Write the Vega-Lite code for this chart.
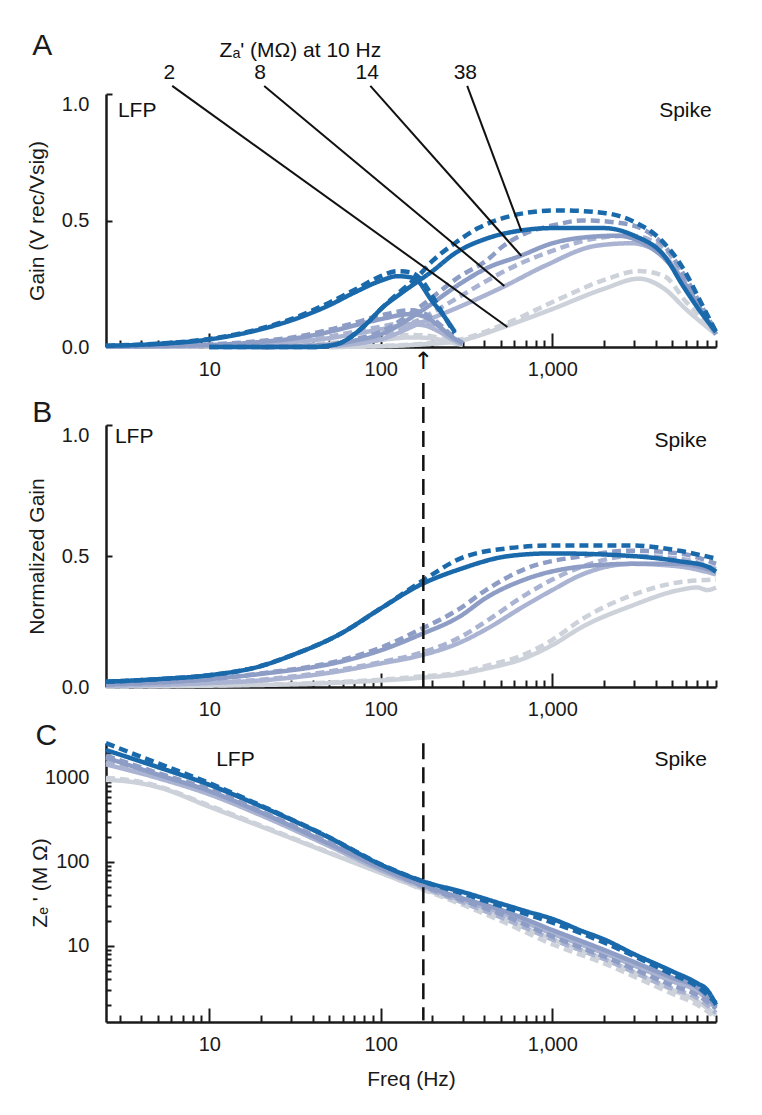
{
"$schema":"https://vega.github.io/schema/vega-lite/v6.json",
"padding":{"left":26,"top":30,"right":5,"bottom":5},
"spacing":-5,
"datasets":{"curves":[
{"p":"A","z":"2","s":"solid","b":"LFP","f":2.5,"v":0.0005},{"p":"A","z":"2","s":"solid","b":"LFP","f":10,"v":0.002},{"p":"A","z":"2","s":"solid","b":"LFP","f":20,"v":0.005},{"p":"A","z":"2","s":"solid","b":"LFP","f":50,"v":0.012},{"p":"A","z":"2","s":"solid","b":"LFP","f":100,"v":0.028},{"p":"A","z":"2","s":"solid","b":"LFP","f":150,"v":0.038},{"p":"A","z":"2","s":"solid","b":"LFP","f":200,"v":0.034},{"p":"A","z":"2","s":"solid","b":"LFP","f":250,"v":0.02},{"p":"A","z":"2","s":"solid","b":"LFP","f":300,"v":0.008},
{"p":"A","z":"2","s":"dashed","b":"LFP","f":2.5,"v":0.0005},{"p":"A","z":"2","s":"dashed","b":"LFP","f":10,"v":0.002},{"p":"A","z":"2","s":"dashed","b":"LFP","f":20,"v":0.006},{"p":"A","z":"2","s":"dashed","b":"LFP","f":50,"v":0.016},{"p":"A","z":"2","s":"dashed","b":"LFP","f":100,"v":0.035},{"p":"A","z":"2","s":"dashed","b":"LFP","f":150,"v":0.048},{"p":"A","z":"2","s":"dashed","b":"LFP","f":200,"v":0.042},{"p":"A","z":"2","s":"dashed","b":"LFP","f":250,"v":0.025},{"p":"A","z":"2","s":"dashed","b":"LFP","f":300,"v":0.01},
{"p":"A","z":"2","s":"solid","b":"Spike","f":50,"v":0},{"p":"A","z":"2","s":"solid","b":"Spike","f":100,"v":0.003},{"p":"A","z":"2","s":"solid","b":"Spike","f":170,"v":0.01},{"p":"A","z":"2","s":"solid","b":"Spike","f":290,"v":0.025},{"p":"A","z":"2","s":"solid","b":"Spike","f":525,"v":0.08},{"p":"A","z":"2","s":"solid","b":"Spike","f":1000,"v":0.15},{"p":"A","z":"2","s":"solid","b":"Spike","f":2000,"v":0.23},{"p":"A","z":"2","s":"solid","b":"Spike","f":3200,"v":0.27},{"p":"A","z":"2","s":"solid","b":"Spike","f":4500,"v":0.23},{"p":"A","z":"2","s":"solid","b":"Spike","f":6000,"v":0.15},{"p":"A","z":"2","s":"solid","b":"Spike","f":9000,"v":0.05},
{"p":"A","z":"2","s":"dashed","b":"Spike","f":50,"v":0},{"p":"A","z":"2","s":"dashed","b":"Spike","f":100,"v":0.004},{"p":"A","z":"2","s":"dashed","b":"Spike","f":170,"v":0.012},{"p":"A","z":"2","s":"dashed","b":"Spike","f":290,"v":0.03},{"p":"A","z":"2","s":"dashed","b":"Spike","f":525,"v":0.09},{"p":"A","z":"2","s":"dashed","b":"Spike","f":1100,"v":0.19},{"p":"A","z":"2","s":"dashed","b":"Spike","f":2100,"v":0.27},{"p":"A","z":"2","s":"dashed","b":"Spike","f":3200,"v":0.3},{"p":"A","z":"2","s":"dashed","b":"Spike","f":4500,"v":0.28},{"p":"A","z":"2","s":"dashed","b":"Spike","f":6000,"v":0.18},{"p":"A","z":"2","s":"dashed","b":"Spike","f":9000,"v":0.06},
{"p":"A","z":"8","s":"solid","b":"LFP","f":2.5,"v":0.001},{"p":"A","z":"8","s":"solid","b":"LFP","f":10,"v":0.005},{"p":"A","z":"8","s":"solid","b":"LFP","f":20,"v":0.012},{"p":"A","z":"8","s":"solid","b":"LFP","f":50,"v":0.035},{"p":"A","z":"8","s":"solid","b":"LFP","f":100,"v":0.07},{"p":"A","z":"8","s":"solid","b":"LFP","f":150,"v":0.09},{"p":"A","z":"8","s":"solid","b":"LFP","f":180,"v":0.085},{"p":"A","z":"8","s":"solid","b":"LFP","f":220,"v":0.06},{"p":"A","z":"8","s":"solid","b":"LFP","f":260,"v":0.03},{"p":"A","z":"8","s":"solid","b":"LFP","f":300,"v":0.01},
{"p":"A","z":"8","s":"dashed","b":"LFP","f":2.5,"v":0.001},{"p":"A","z":"8","s":"dashed","b":"LFP","f":10,"v":0.006},{"p":"A","z":"8","s":"dashed","b":"LFP","f":20,"v":0.015},{"p":"A","z":"8","s":"dashed","b":"LFP","f":50,"v":0.042},{"p":"A","z":"8","s":"dashed","b":"LFP","f":100,"v":0.08},{"p":"A","z":"8","s":"dashed","b":"LFP","f":150,"v":0.1},{"p":"A","z":"8","s":"dashed","b":"LFP","f":180,"v":0.095},{"p":"A","z":"8","s":"dashed","b":"LFP","f":220,"v":0.066},{"p":"A","z":"8","s":"dashed","b":"LFP","f":260,"v":0.033},{"p":"A","z":"8","s":"dashed","b":"LFP","f":300,"v":0.01},
{"p":"A","z":"8","s":"solid","b":"Spike","f":20,"v":0},{"p":"A","z":"8","s":"solid","b":"Spike","f":50,"v":0.004},{"p":"A","z":"8","s":"solid","b":"Spike","f":70,"v":0.012},{"p":"A","z":"8","s":"solid","b":"Spike","f":100,"v":0.03},{"p":"A","z":"8","s":"solid","b":"Spike","f":170,"v":0.095},{"p":"A","z":"8","s":"solid","b":"Spike","f":290,"v":0.16},{"p":"A","z":"8","s":"solid","b":"Spike","f":525,"v":0.24},{"p":"A","z":"8","s":"solid","b":"Spike","f":900,"v":0.32},{"p":"A","z":"8","s":"solid","b":"Spike","f":1800,"v":0.4},{"p":"A","z":"8","s":"solid","b":"Spike","f":2900,"v":0.41},{"p":"A","z":"8","s":"solid","b":"Spike","f":3800,"v":0.39},{"p":"A","z":"8","s":"solid","b":"Spike","f":4800,"v":0.34},{"p":"A","z":"8","s":"solid","b":"Spike","f":5800,"v":0.26},{"p":"A","z":"8","s":"solid","b":"Spike","f":7300,"v":0.15},{"p":"A","z":"8","s":"solid","b":"Spike","f":9000,"v":0.05},
{"p":"A","z":"8","s":"dashed","b":"Spike","f":20,"v":0},{"p":"A","z":"8","s":"dashed","b":"Spike","f":50,"v":0.005},{"p":"A","z":"8","s":"dashed","b":"Spike","f":70,"v":0.015},{"p":"A","z":"8","s":"dashed","b":"Spike","f":100,"v":0.035},{"p":"A","z":"8","s":"dashed","b":"Spike","f":170,"v":0.11},{"p":"A","z":"8","s":"dashed","b":"Spike","f":290,"v":0.2},{"p":"A","z":"8","s":"dashed","b":"Spike","f":410,"v":0.26},{"p":"A","z":"8","s":"dashed","b":"Spike","f":650,"v":0.33},{"p":"A","z":"8","s":"dashed","b":"Spike","f":1000,"v":0.38},{"p":"A","z":"8","s":"dashed","b":"Spike","f":1800,"v":0.43},{"p":"A","z":"8","s":"dashed","b":"Spike","f":2900,"v":0.44},{"p":"A","z":"8","s":"dashed","b":"Spike","f":3800,"v":0.42},{"p":"A","z":"8","s":"dashed","b":"Spike","f":4800,"v":0.37},{"p":"A","z":"8","s":"dashed","b":"Spike","f":5800,"v":0.28},{"p":"A","z":"8","s":"dashed","b":"Spike","f":7300,"v":0.16},{"p":"A","z":"8","s":"dashed","b":"Spike","f":9000,"v":0.06},
{"p":"A","z":"14","s":"solid","b":"LFP","f":2.5,"v":0.002},{"p":"A","z":"14","s":"solid","b":"LFP","f":10,"v":0.008},{"p":"A","z":"14","s":"solid","b":"LFP","f":20,"v":0.02},{"p":"A","z":"14","s":"solid","b":"LFP","f":30,"v":0.032},{"p":"A","z":"14","s":"solid","b":"LFP","f":50,"v":0.06},{"p":"A","z":"14","s":"solid","b":"LFP","f":70,"v":0.085},{"p":"A","z":"14","s":"solid","b":"LFP","f":100,"v":0.11},{"p":"A","z":"14","s":"solid","b":"LFP","f":150,"v":0.13},{"p":"A","z":"14","s":"solid","b":"LFP","f":180,"v":0.12},{"p":"A","z":"14","s":"solid","b":"LFP","f":220,"v":0.08},{"p":"A","z":"14","s":"solid","b":"LFP","f":260,"v":0.04},{"p":"A","z":"14","s":"solid","b":"LFP","f":300,"v":0.015},
{"p":"A","z":"14","s":"dashed","b":"LFP","f":2.5,"v":0.003},{"p":"A","z":"14","s":"dashed","b":"LFP","f":10,"v":0.01},{"p":"A","z":"14","s":"dashed","b":"LFP","f":20,"v":0.024},{"p":"A","z":"14","s":"dashed","b":"LFP","f":30,"v":0.037},{"p":"A","z":"14","s":"dashed","b":"LFP","f":50,"v":0.068},{"p":"A","z":"14","s":"dashed","b":"LFP","f":70,"v":0.095},{"p":"A","z":"14","s":"dashed","b":"LFP","f":100,"v":0.125},{"p":"A","z":"14","s":"dashed","b":"LFP","f":150,"v":0.145},{"p":"A","z":"14","s":"dashed","b":"LFP","f":180,"v":0.132},{"p":"A","z":"14","s":"dashed","b":"LFP","f":220,"v":0.09},{"p":"A","z":"14","s":"dashed","b":"LFP","f":260,"v":0.045},{"p":"A","z":"14","s":"dashed","b":"LFP","f":300,"v":0.015},
{"p":"A","z":"14","s":"solid","b":"Spike","f":20,"v":0},{"p":"A","z":"14","s":"solid","b":"Spike","f":50,"v":0.008},{"p":"A","z":"14","s":"solid","b":"Spike","f":70,"v":0.025},{"p":"A","z":"14","s":"solid","b":"Spike","f":100,"v":0.05},{"p":"A","z":"14","s":"solid","b":"Spike","f":170,"v":0.14},{"p":"A","z":"14","s":"solid","b":"Spike","f":290,"v":0.25},{"p":"A","z":"14","s":"solid","b":"Spike","f":410,"v":0.31},{"p":"A","z":"14","s":"solid","b":"Spike","f":650,"v":0.36},{"p":"A","z":"14","s":"solid","b":"Spike","f":1000,"v":0.41},{"p":"A","z":"14","s":"solid","b":"Spike","f":1400,"v":0.43},{"p":"A","z":"14","s":"solid","b":"Spike","f":2400,"v":0.44},{"p":"A","z":"14","s":"solid","b":"Spike","f":3400,"v":0.41},{"p":"A","z":"14","s":"solid","b":"Spike","f":4500,"v":0.35},{"p":"A","z":"14","s":"solid","b":"Spike","f":5800,"v":0.26},{"p":"A","z":"14","s":"solid","b":"Spike","f":7300,"v":0.15},{"p":"A","z":"14","s":"solid","b":"Spike","f":9000,"v":0.05},
{"p":"A","z":"14","s":"dashed","b":"Spike","f":20,"v":0},{"p":"A","z":"14","s":"dashed","b":"Spike","f":50,"v":0.01},{"p":"A","z":"14","s":"dashed","b":"Spike","f":70,"v":0.03},{"p":"A","z":"14","s":"dashed","b":"Spike","f":100,"v":0.06},{"p":"A","z":"14","s":"dashed","b":"Spike","f":170,"v":0.16},{"p":"A","z":"14","s":"dashed","b":"Spike","f":290,"v":0.28},{"p":"A","z":"14","s":"dashed","b":"Spike","f":410,"v":0.34},{"p":"A","z":"14","s":"dashed","b":"Spike","f":520,"v":0.4},{"p":"A","z":"14","s":"dashed","b":"Spike","f":700,"v":0.45},{"p":"A","z":"14","s":"dashed","b":"Spike","f":1000,"v":0.48},{"p":"A","z":"14","s":"dashed","b":"Spike","f":1500,"v":0.5},{"p":"A","z":"14","s":"dashed","b":"Spike","f":2500,"v":0.49},{"p":"A","z":"14","s":"dashed","b":"Spike","f":3500,"v":0.46},{"p":"A","z":"14","s":"dashed","b":"Spike","f":4500,"v":0.4},{"p":"A","z":"14","s":"dashed","b":"Spike","f":5800,"v":0.29},{"p":"A","z":"14","s":"dashed","b":"Spike","f":7300,"v":0.17},{"p":"A","z":"14","s":"dashed","b":"Spike","f":9000,"v":0.06},
{"p":"A","z":"38","s":"solid","b":"LFP","f":2.5,"v":0.005},{"p":"A","z":"38","s":"solid","b":"LFP","f":5,"v":0.012},{"p":"A","z":"38","s":"solid","b":"LFP","f":10,"v":0.03},{"p":"A","z":"38","s":"solid","b":"LFP","f":20,"v":0.07},{"p":"A","z":"38","s":"solid","b":"LFP","f":30,"v":0.105},{"p":"A","z":"38","s":"solid","b":"LFP","f":50,"v":0.165},{"p":"A","z":"38","s":"solid","b":"LFP","f":70,"v":0.215},{"p":"A","z":"38","s":"solid","b":"LFP","f":100,"v":0.262},{"p":"A","z":"38","s":"solid","b":"LFP","f":125,"v":0.28},{"p":"A","z":"38","s":"solid","b":"LFP","f":150,"v":0.275},{"p":"A","z":"38","s":"solid","b":"LFP","f":165,"v":0.26},{"p":"A","z":"38","s":"solid","b":"LFP","f":195,"v":0.19},{"p":"A","z":"38","s":"solid","b":"LFP","f":235,"v":0.12},{"p":"A","z":"38","s":"solid","b":"LFP","f":270,"v":0.06},
{"p":"A","z":"38","s":"dashed","b":"LFP","f":2.5,"v":0.005},{"p":"A","z":"38","s":"dashed","b":"LFP","f":5,"v":0.013},{"p":"A","z":"38","s":"dashed","b":"LFP","f":10,"v":0.032},{"p":"A","z":"38","s":"dashed","b":"LFP","f":20,"v":0.073},{"p":"A","z":"38","s":"dashed","b":"LFP","f":30,"v":0.11},{"p":"A","z":"38","s":"dashed","b":"LFP","f":50,"v":0.175},{"p":"A","z":"38","s":"dashed","b":"LFP","f":70,"v":0.225},{"p":"A","z":"38","s":"dashed","b":"LFP","f":100,"v":0.28},{"p":"A","z":"38","s":"dashed","b":"LFP","f":125,"v":0.3},{"p":"A","z":"38","s":"dashed","b":"LFP","f":150,"v":0.295},{"p":"A","z":"38","s":"dashed","b":"LFP","f":170,"v":0.27},{"p":"A","z":"38","s":"dashed","b":"LFP","f":200,"v":0.2},{"p":"A","z":"38","s":"dashed","b":"LFP","f":235,"v":0.12},{"p":"A","z":"38","s":"dashed","b":"LFP","f":270,"v":0.055},
{"p":"A","z":"38","s":"solid","b":"Spike","f":10,"v":0},{"p":"A","z":"38","s":"solid","b":"Spike","f":40,"v":0},{"p":"A","z":"38","s":"solid","b":"Spike","f":50,"v":0.005},{"p":"A","z":"38","s":"solid","b":"Spike","f":60,"v":0.02},{"p":"A","z":"38","s":"solid","b":"Spike","f":70,"v":0.05},{"p":"A","z":"38","s":"solid","b":"Spike","f":85,"v":0.1},{"p":"A","z":"38","s":"solid","b":"Spike","f":100,"v":0.15},{"p":"A","z":"38","s":"solid","b":"Spike","f":130,"v":0.21},{"p":"A","z":"38","s":"solid","b":"Spike","f":165,"v":0.26},{"p":"A","z":"38","s":"solid","b":"Spike","f":200,"v":0.3},{"p":"A","z":"38","s":"solid","b":"Spike","f":270,"v":0.37},{"p":"A","z":"38","s":"solid","b":"Spike","f":420,"v":0.43},{"p":"A","z":"38","s":"solid","b":"Spike","f":650,"v":0.46},{"p":"A","z":"38","s":"solid","b":"Spike","f":1000,"v":0.47},{"p":"A","z":"38","s":"solid","b":"Spike","f":2000,"v":0.47},{"p":"A","z":"38","s":"solid","b":"Spike","f":3000,"v":0.44},{"p":"A","z":"38","s":"solid","b":"Spike","f":4500,"v":0.36},{"p":"A","z":"38","s":"solid","b":"Spike","f":5800,"v":0.24},{"p":"A","z":"38","s":"solid","b":"Spike","f":7300,"v":0.14},{"p":"A","z":"38","s":"solid","b":"Spike","f":9000,"v":0.06},
{"p":"A","z":"38","s":"dashed","b":"Spike","f":10,"v":0},{"p":"A","z":"38","s":"dashed","b":"Spike","f":40,"v":0},{"p":"A","z":"38","s":"dashed","b":"Spike","f":50,"v":0.005},{"p":"A","z":"38","s":"dashed","b":"Spike","f":60,"v":0.02},{"p":"A","z":"38","s":"dashed","b":"Spike","f":70,"v":0.05},{"p":"A","z":"38","s":"dashed","b":"Spike","f":85,"v":0.1},{"p":"A","z":"38","s":"dashed","b":"Spike","f":100,"v":0.15},{"p":"A","z":"38","s":"dashed","b":"Spike","f":130,"v":0.22},{"p":"A","z":"38","s":"dashed","b":"Spike","f":165,"v":0.28},{"p":"A","z":"38","s":"dashed","b":"Spike","f":200,"v":0.34},{"p":"A","z":"38","s":"dashed","b":"Spike","f":270,"v":0.41},{"p":"A","z":"38","s":"dashed","b":"Spike","f":370,"v":0.47},{"p":"A","z":"38","s":"dashed","b":"Spike","f":520,"v":0.51},{"p":"A","z":"38","s":"dashed","b":"Spike","f":700,"v":0.53},{"p":"A","z":"38","s":"dashed","b":"Spike","f":1100,"v":0.54},{"p":"A","z":"38","s":"dashed","b":"Spike","f":2000,"v":0.53},{"p":"A","z":"38","s":"dashed","b":"Spike","f":3100,"v":0.49},{"p":"A","z":"38","s":"dashed","b":"Spike","f":4200,"v":0.43},{"p":"A","z":"38","s":"dashed","b":"Spike","f":5800,"v":0.31},{"p":"A","z":"38","s":"dashed","b":"Spike","f":7300,"v":0.18},{"p":"A","z":"38","s":"dashed","b":"Spike","f":9000,"v":0.06},
{"p":"B","z":"2","s":"solid","f":2.5,"v":0.002},{"p":"B","z":"2","s":"solid","f":10,"v":0.005},{"p":"B","z":"2","s":"solid","f":50,"v":0.015},{"p":"B","z":"2","s":"solid","f":100,"v":0.025},{"p":"B","z":"2","s":"solid","f":170,"v":0.035},{"p":"B","z":"2","s":"solid","f":290,"v":0.05},{"p":"B","z":"2","s":"solid","f":410,"v":0.07},{"p":"B","z":"2","s":"solid","f":690,"v":0.11},{"p":"B","z":"2","s":"solid","f":1000,"v":0.16},{"p":"B","z":"2","s":"solid","f":1500,"v":0.23},{"p":"B","z":"2","s":"solid","f":2900,"v":0.31},{"p":"B","z":"2","s":"solid","f":5500,"v":0.37},{"p":"B","z":"2","s":"solid","f":7000,"v":0.38},{"p":"B","z":"2","s":"solid","f":8000,"v":0.37},{"p":"B","z":"2","s":"solid","f":9000,"v":0.38},
{"p":"B","z":"2","s":"dashed","f":2.5,"v":0.002},{"p":"B","z":"2","s":"dashed","f":10,"v":0.006},{"p":"B","z":"2","s":"dashed","f":50,"v":0.017},{"p":"B","z":"2","s":"dashed","f":100,"v":0.028},{"p":"B","z":"2","s":"dashed","f":170,"v":0.04},{"p":"B","z":"2","s":"dashed","f":290,"v":0.055},{"p":"B","z":"2","s":"dashed","f":410,"v":0.08},{"p":"B","z":"2","s":"dashed","f":690,"v":0.125},{"p":"B","z":"2","s":"dashed","f":1000,"v":0.18},{"p":"B","z":"2","s":"dashed","f":1500,"v":0.26},{"p":"B","z":"2","s":"dashed","f":2900,"v":0.35},{"p":"B","z":"2","s":"dashed","f":5500,"v":0.4},{"p":"B","z":"2","s":"dashed","f":9000,"v":0.41},
{"p":"B","z":"8","s":"solid","f":2.5,"v":0.005},{"p":"B","z":"8","s":"solid","f":10,"v":0.015},{"p":"B","z":"8","s":"solid","f":20,"v":0.025},{"p":"B","z":"8","s":"solid","f":57,"v":0.06},{"p":"B","z":"8","s":"solid","f":100,"v":0.09},{"p":"B","z":"8","s":"solid","f":170,"v":0.12},{"p":"B","z":"8","s":"solid","f":290,"v":0.17},{"p":"B","z":"8","s":"solid","f":410,"v":0.22},{"p":"B","z":"8","s":"solid","f":690,"v":0.31},{"p":"B","z":"8","s":"solid","f":1000,"v":0.37},{"p":"B","z":"8","s":"solid","f":1500,"v":0.43},{"p":"B","z":"8","s":"solid","f":2900,"v":0.47},{"p":"B","z":"8","s":"solid","f":5500,"v":0.46},{"p":"B","z":"8","s":"solid","f":9000,"v":0.43},
{"p":"B","z":"8","s":"dashed","f":2.5,"v":0.005},{"p":"B","z":"8","s":"dashed","f":10,"v":0.016},{"p":"B","z":"8","s":"dashed","f":20,"v":0.028},{"p":"B","z":"8","s":"dashed","f":57,"v":0.065},{"p":"B","z":"8","s":"dashed","f":100,"v":0.095},{"p":"B","z":"8","s":"dashed","f":170,"v":0.13},{"p":"B","z":"8","s":"dashed","f":290,"v":0.19},{"p":"B","z":"8","s":"dashed","f":410,"v":0.25},{"p":"B","z":"8","s":"dashed","f":690,"v":0.35},{"p":"B","z":"8","s":"dashed","f":1000,"v":0.41},{"p":"B","z":"8","s":"dashed","f":1500,"v":0.46},{"p":"B","z":"8","s":"dashed","f":2900,"v":0.5},{"p":"B","z":"8","s":"dashed","f":5500,"v":0.49},{"p":"B","z":"8","s":"dashed","f":9000,"v":0.45},
{"p":"B","z":"14","s":"solid","f":2.5,"v":0.01},{"p":"B","z":"14","s":"solid","f":10,"v":0.03},{"p":"B","z":"14","s":"solid","f":20,"v":0.05},{"p":"B","z":"14","s":"solid","f":57,"v":0.095},{"p":"B","z":"14","s":"solid","f":100,"v":0.14},{"p":"B","z":"14","s":"solid","f":170,"v":0.2},{"p":"B","z":"14","s":"solid","f":290,"v":0.27},{"p":"B","z":"14","s":"solid","f":410,"v":0.34},{"p":"B","z":"14","s":"solid","f":690,"v":0.41},{"p":"B","z":"14","s":"solid","f":1500,"v":0.46},{"p":"B","z":"14","s":"solid","f":2900,"v":0.47},{"p":"B","z":"14","s":"solid","f":5500,"v":0.47},{"p":"B","z":"14","s":"solid","f":9000,"v":0.44},
{"p":"B","z":"14","s":"dashed","f":2.5,"v":0.01},{"p":"B","z":"14","s":"dashed","f":10,"v":0.03},{"p":"B","z":"14","s":"dashed","f":20,"v":0.052},{"p":"B","z":"14","s":"dashed","f":57,"v":0.1},{"p":"B","z":"14","s":"dashed","f":100,"v":0.15},{"p":"B","z":"14","s":"dashed","f":170,"v":0.22},{"p":"B","z":"14","s":"dashed","f":290,"v":0.3},{"p":"B","z":"14","s":"dashed","f":410,"v":0.37},{"p":"B","z":"14","s":"dashed","f":690,"v":0.45},{"p":"B","z":"14","s":"dashed","f":1500,"v":0.5},{"p":"B","z":"14","s":"dashed","f":2900,"v":0.52},{"p":"B","z":"14","s":"dashed","f":5500,"v":0.51},{"p":"B","z":"14","s":"dashed","f":9000,"v":0.47},
{"p":"B","z":"38","s":"solid","f":2.5,"v":0.02},{"p":"B","z":"38","s":"solid","f":5,"v":0.03},{"p":"B","z":"38","s":"solid","f":10,"v":0.045},{"p":"B","z":"38","s":"solid","f":20,"v":0.08},{"p":"B","z":"38","s":"solid","f":30,"v":0.12},{"p":"B","z":"38","s":"solid","f":57,"v":0.2},{"p":"B","z":"38","s":"solid","f":100,"v":0.3},{"p":"B","z":"38","s":"solid","f":170,"v":0.39},{"p":"B","z":"38","s":"solid","f":290,"v":0.45},{"p":"B","z":"38","s":"solid","f":560,"v":0.5},{"p":"B","z":"38","s":"solid","f":1000,"v":0.51},{"p":"B","z":"38","s":"solid","f":2900,"v":0.5},{"p":"B","z":"38","s":"solid","f":5500,"v":0.48},{"p":"B","z":"38","s":"solid","f":8000,"v":0.46},{"p":"B","z":"38","s":"solid","f":9000,"v":0.44},
{"p":"B","z":"38","s":"dashed","f":2.5,"v":0.02},{"p":"B","z":"38","s":"dashed","f":5,"v":0.03},{"p":"B","z":"38","s":"dashed","f":10,"v":0.045},{"p":"B","z":"38","s":"dashed","f":20,"v":0.08},{"p":"B","z":"38","s":"dashed","f":30,"v":0.12},{"p":"B","z":"38","s":"dashed","f":57,"v":0.2},{"p":"B","z":"38","s":"dashed","f":100,"v":0.3},{"p":"B","z":"38","s":"dashed","f":170,"v":0.4},{"p":"B","z":"38","s":"dashed","f":290,"v":0.49},{"p":"B","z":"38","s":"dashed","f":560,"v":0.53},{"p":"B","z":"38","s":"dashed","f":1000,"v":0.54},{"p":"B","z":"38","s":"dashed","f":2900,"v":0.54},{"p":"B","z":"38","s":"dashed","f":5500,"v":0.52},{"p":"B","z":"38","s":"dashed","f":9000,"v":0.49},
{"p":"C","z":"2","s":"solid","f":2.5,"v":950},{"p":"C","z":"2","s":"solid","f":3.5,"v":900},{"p":"C","z":"2","s":"solid","f":5,"v":780},{"p":"C","z":"2","s":"solid","f":10,"v":455},{"p":"C","z":"2","s":"solid","f":20,"v":265},{"p":"C","z":"2","s":"solid","f":50,"v":128},{"p":"C","z":"2","s":"solid","f":100,"v":74},{"p":"C","z":"2","s":"solid","f":180,"v":47},{"p":"C","z":"2","s":"solid","f":300,"v":33},{"p":"C","z":"2","s":"solid","f":500,"v":22},{"p":"C","z":"2","s":"solid","f":1000,"v":12},{"p":"C","z":"2","s":"solid","f":2000,"v":7},{"p":"C","z":"2","s":"solid","f":5000,"v":3},{"p":"C","z":"2","s":"solid","f":7000,"v":2.2},{"p":"C","z":"2","s":"solid","f":9000,"v":1.5},
{"p":"C","z":"2","s":"dashed","f":2.5,"v":1000},{"p":"C","z":"2","s":"dashed","f":3.5,"v":940},{"p":"C","z":"2","s":"dashed","f":5,"v":800},{"p":"C","z":"2","s":"dashed","f":10,"v":470},{"p":"C","z":"2","s":"dashed","f":20,"v":272},{"p":"C","z":"2","s":"dashed","f":50,"v":130},{"p":"C","z":"2","s":"dashed","f":100,"v":75},{"p":"C","z":"2","s":"dashed","f":180,"v":46},{"p":"C","z":"2","s":"dashed","f":300,"v":31},{"p":"C","z":"2","s":"dashed","f":500,"v":20},{"p":"C","z":"2","s":"dashed","f":1000,"v":10.5},{"p":"C","z":"2","s":"dashed","f":2000,"v":6.2},{"p":"C","z":"2","s":"dashed","f":5000,"v":2.7},{"p":"C","z":"2","s":"dashed","f":7000,"v":2},{"p":"C","z":"2","s":"dashed","f":9000,"v":1.4},
{"p":"C","z":"8","s":"solid","f":2.5,"v":1450},{"p":"C","z":"8","s":"solid","f":5,"v":1000},{"p":"C","z":"8","s":"solid","f":10,"v":640},{"p":"C","z":"8","s":"solid","f":20,"v":360},{"p":"C","z":"8","s":"solid","f":50,"v":155},{"p":"C","z":"8","s":"solid","f":100,"v":80},{"p":"C","z":"8","s":"solid","f":180,"v":50},{"p":"C","z":"8","s":"solid","f":300,"v":35},{"p":"C","z":"8","s":"solid","f":500,"v":25},{"p":"C","z":"8","s":"solid","f":1000,"v":14},{"p":"C","z":"8","s":"solid","f":2000,"v":8.2},{"p":"C","z":"8","s":"solid","f":5000,"v":3.8},{"p":"C","z":"8","s":"solid","f":7000,"v":2.9},{"p":"C","z":"8","s":"solid","f":9000,"v":1.8},
{"p":"C","z":"8","s":"dashed","f":2.5,"v":1550},{"p":"C","z":"8","s":"dashed","f":5,"v":1050},{"p":"C","z":"8","s":"dashed","f":10,"v":660},{"p":"C","z":"8","s":"dashed","f":20,"v":370},{"p":"C","z":"8","s":"dashed","f":50,"v":158},{"p":"C","z":"8","s":"dashed","f":100,"v":81},{"p":"C","z":"8","s":"dashed","f":180,"v":49},{"p":"C","z":"8","s":"dashed","f":300,"v":33},{"p":"C","z":"8","s":"dashed","f":500,"v":22},{"p":"C","z":"8","s":"dashed","f":1000,"v":12},{"p":"C","z":"8","s":"dashed","f":2000,"v":7},{"p":"C","z":"8","s":"dashed","f":5000,"v":3.1},{"p":"C","z":"8","s":"dashed","f":7000,"v":2.4},{"p":"C","z":"8","s":"dashed","f":9000,"v":1.6},
{"p":"C","z":"14","s":"solid","f":2.5,"v":1750},{"p":"C","z":"14","s":"solid","f":5,"v":1100},{"p":"C","z":"14","s":"solid","f":10,"v":700},{"p":"C","z":"14","s":"solid","f":20,"v":390},{"p":"C","z":"14","s":"solid","f":50,"v":165},{"p":"C","z":"14","s":"solid","f":100,"v":85},{"p":"C","z":"14","s":"solid","f":180,"v":52},{"p":"C","z":"14","s":"solid","f":300,"v":37},{"p":"C","z":"14","s":"solid","f":500,"v":27},{"p":"C","z":"14","s":"solid","f":1000,"v":15.5},{"p":"C","z":"14","s":"solid","f":2000,"v":9},{"p":"C","z":"14","s":"solid","f":5000,"v":4.2},{"p":"C","z":"14","s":"solid","f":7000,"v":3.2},{"p":"C","z":"14","s":"solid","f":9000,"v":1.9},
{"p":"C","z":"14","s":"dashed","f":2.5,"v":1850},{"p":"C","z":"14","s":"dashed","f":5,"v":1150},{"p":"C","z":"14","s":"dashed","f":10,"v":730},{"p":"C","z":"14","s":"dashed","f":20,"v":400},{"p":"C","z":"14","s":"dashed","f":50,"v":170},{"p":"C","z":"14","s":"dashed","f":100,"v":86},{"p":"C","z":"14","s":"dashed","f":180,"v":51},{"p":"C","z":"14","s":"dashed","f":300,"v":35},{"p":"C","z":"14","s":"dashed","f":500,"v":24},{"p":"C","z":"14","s":"dashed","f":1000,"v":13},{"p":"C","z":"14","s":"dashed","f":2000,"v":7.5},{"p":"C","z":"14","s":"dashed","f":5000,"v":3.4},{"p":"C","z":"14","s":"dashed","f":7000,"v":2.6},{"p":"C","z":"14","s":"dashed","f":9000,"v":1.8},
{"p":"C","z":"38","s":"solid","f":2.5,"v":2150},{"p":"C","z":"38","s":"solid","f":5,"v":1350},{"p":"C","z":"38","s":"solid","f":10,"v":830},{"p":"C","z":"38","s":"solid","f":20,"v":460},{"p":"C","z":"38","s":"solid","f":50,"v":195},{"p":"C","z":"38","s":"solid","f":100,"v":93},{"p":"C","z":"38","s":"solid","f":180,"v":58},{"p":"C","z":"38","s":"solid","f":300,"v":44},{"p":"C","z":"38","s":"solid","f":500,"v":32},{"p":"C","z":"38","s":"solid","f":700,"v":26},{"p":"C","z":"38","s":"solid","f":1000,"v":21},{"p":"C","z":"38","s":"solid","f":1500,"v":15},{"p":"C","z":"38","s":"solid","f":2000,"v":12},{"p":"C","z":"38","s":"solid","f":3000,"v":8},{"p":"C","z":"38","s":"solid","f":5000,"v":5},{"p":"C","z":"38","s":"solid","f":7000,"v":3.6},{"p":"C","z":"38","s":"solid","f":8000,"v":3},{"p":"C","z":"38","s":"solid","f":9000,"v":2},
{"p":"C","z":"38","s":"dashed","f":2.5,"v":2600},{"p":"C","z":"38","s":"dashed","f":5,"v":1500},{"p":"C","z":"38","s":"dashed","f":10,"v":870},{"p":"C","z":"38","s":"dashed","f":20,"v":470},{"p":"C","z":"38","s":"dashed","f":50,"v":197},{"p":"C","z":"38","s":"dashed","f":100,"v":94},{"p":"C","z":"38","s":"dashed","f":180,"v":58},{"p":"C","z":"38","s":"dashed","f":300,"v":42},{"p":"C","z":"38","s":"dashed","f":500,"v":30},{"p":"C","z":"38","s":"dashed","f":1000,"v":19},{"p":"C","z":"38","s":"dashed","f":2000,"v":11},{"p":"C","z":"38","s":"dashed","f":5000,"v":4.6},{"p":"C","z":"38","s":"dashed","f":7000,"v":3.3},{"p":"C","z":"38","s":"dashed","f":9000,"v":2.1}
]},
"vconcat":[
{
"width":610,"height":253,
"title":{"text":"A","anchor":"start","frame":"bounds","fontSize":30,"fontWeight":"normal","dx":6,"dy":25},
"encoding":{
"x":{"field":"f","type":"quantitative","scale":{"type":"log","domain":[2.5,9000],"nice":false},
"axis":{"title":null,"values":[3,4,5,6,7,8,9,10,20,30,40,50,60,70,80,90,100,200,300,400,500,600,700,800,900,1000,2000,3000,4000,5000,6000,7000,8000,9000],"format":",","labelExpr":"(datum.value==10||datum.value==100||datum.value==1000)?datum.label:''","labelOverlap":false,"tickSize":{"condition":{"test":"datum.value==10||datum.value==100||datum.value==1000","value":-14},"value":-7},"labelPadding":26}},
"y":{"field":"v","type":"quantitative","scale":{"domain":[0,1],"nice":false},
"axis":{"title":"Gain (V rec/Vsig)","values":[0,0.5,1],"format":".1f","tickSize":-6,"labelPadding":23,"titlePadding":14,"labelBaseline":{"condition":{"test":"datum.value==1","value":"top"},"value":"middle"}}}
},
"layer":[
{"data":{"name":"curves"},"transform":[{"filter":"datum.p=='A'"}],"mark":{"type":"line","strokeWidth":4.5,"interpolate":"monotone"},
"encoding":{"color":{"field":"z","type":"nominal","scale":{"domain":["2","8","14","38"],"range":["#cdd2da","#aab4d2","#8d9dc5","#1a69ab"]},"legend":null},
"strokeDash":{"field":"s","type":"nominal","scale":{"domain":["solid","dashed"],"range":[[1,0],[9,5]]},"legend":null},
"detail":{"field":"b"}}},
{"data":{"values":[{"f":6.08,"v":1.032,"f2":547,"v2":0.079},{"f":20.9,"v":1.032,"f2":525,"v2":0.241},{"f":86.9,"v":1.032,"f2":660,"v2":0.36},{"f":319,"v":1.032,"f2":660,"v2":0.458}]},
"mark":{"type":"rule","color":"#111111","strokeWidth":2},"encoding":{"x2":{"field":"f2"},"y2":{"field":"v2"}}},
{"data":{"values":[{"f":5.85,"v":1.083,"t":"2"},{"f":19.8,"v":1.083,"t":"8"},{"f":83.4,"v":1.083,"t":"14"},{"f":311,"v":1.083,"t":"38"}]},
"mark":{"type":"text","fontSize":21,"color":"#111111"},"encoding":{"text":{"field":"t"}}},
{"data":{"values":[{"f":34,"v":1.17,"t":"Zₐ' (MΩ) at 10 Hz"}]},
"mark":{"type":"text","fontSize":21,"color":"#111111"},"encoding":{"text":{"field":"t"}}},
{"data":{"values":[{"f":3.8,"v":0.933,"t":"LFP"},{"f":5970,"v":0.933,"t":"Spike"}]},
"mark":{"type":"text","fontSize":21,"color":"#111111"},"encoding":{"text":{"field":"t"}}},
{"data":{"values":[{"f":177,"v":-0.058,"t":"↑"}]},
"mark":{"type":"text","fontSize":24,"font":"DejaVu Sans","color":"#111111"},"encoding":{"text":{"field":"t"}}}
]
},
{
"width":610,"height":262,
"title":{"text":"B","anchor":"start","frame":"bounds","fontSize":30,"fontWeight":"normal","dx":6,"dy":50},
"encoding":{
"x":{"field":"f","type":"quantitative","scale":{"type":"log","domain":[2.5,9000],"nice":false},
"axis":{"title":null,"values":[3,4,5,6,7,8,9,10,20,30,40,50,60,70,80,90,100,200,300,400,500,600,700,800,900,1000,2000,3000,4000,5000,6000,7000,8000,9000],"format":",","labelExpr":"(datum.value==10||datum.value==100||datum.value==1000)?datum.label:''","labelOverlap":false,"tickSize":{"condition":{"test":"datum.value==10||datum.value==100||datum.value==1000","value":-14},"value":-7},"labelPadding":26}},
"y":{"field":"v","type":"quantitative","scale":{"domain":[0,1],"nice":false},
"axis":{"title":"Normalized Gain","values":[0,0.5,1],"format":".1f","tickSize":-6,"labelPadding":23,"titlePadding":14,"labelBaseline":{"condition":{"test":"datum.value==1","value":"top"},"value":"middle"}}}
},
"layer":[
{"data":{"name":"curves"},"transform":[{"filter":"datum.p=='B'"}],"mark":{"type":"line","strokeWidth":4.5,"interpolate":"monotone"},
"encoding":{"color":{"field":"z","type":"nominal","scale":{"domain":["2","8","14","38"],"range":["#cdd2da","#aab4d2","#8d9dc5","#1a69ab"]},"legend":null},
"strokeDash":{"field":"s","type":"nominal","scale":{"domain":["solid","dashed"],"range":[[1,0],[9,5]]},"legend":null}}},
{"data":{"values":[{"f":177,"v":1.16,"v2":0}]},
"mark":{"type":"rule","color":"#111111","strokeWidth":2.5,"strokeDash":[16,8]},"encoding":{"y2":{"field":"v2"}}},
{"data":{"values":[{"f":3.65,"v":0.955,"t":"LFP"},{"f":5600,"v":0.94,"t":"Spike"}]},
"mark":{"type":"text","fontSize":21,"color":"#111111"},"encoding":{"text":{"field":"t"}}}
]
},
{
"width":610,"height":279,
"title":{"text":"C","anchor":"start","frame":"bounds","fontSize":30,"fontWeight":"normal","dx":6,"dy":21},
"encoding":{
"x":{"field":"f","type":"quantitative","scale":{"type":"log","domain":[2.5,9000],"nice":false},
"axis":{"title":"Freq (Hz)","titlePadding":7,"values":[3,4,5,6,7,8,9,10,20,30,40,50,60,70,80,90,100,200,300,400,500,600,700,800,900,1000,2000,3000,4000,5000,6000,7000,8000,9000],"format":",","labelExpr":"(datum.value==10||datum.value==100||datum.value==1000)?datum.label:''","labelOverlap":false,"tickSize":{"condition":{"test":"datum.value==10||datum.value==100||datum.value==1000","value":-14},"value":-7},"labelPadding":26}},
"y":{"field":"v","type":"quantitative","scale":{"type":"log","domain":[1.245,2610],"nice":false},
"axis":{"title":"Zₑ ' (M Ω)","titlePadding":-6,"values":[2,3,4,5,6,7,8,9,10,20,30,40,50,60,70,80,90,100,200,300,400,500,600,700,800,900,1000,2000],"format":"d","labelExpr":"(datum.value==10||datum.value==100||datum.value==1000)?datum.label:''","labelOverlap":false,"tickSize":{"condition":{"test":"datum.value==10||datum.value==100||datum.value==1000","value":-8},"value":-5},"labelPadding":25}}
},
"layer":[
{"data":{"name":"curves"},"transform":[{"filter":"datum.p=='C'"}],"mark":{"type":"line","strokeWidth":4.5,"interpolate":"monotone"},
"encoding":{"color":{"field":"z","type":"nominal","scale":{"domain":["2","8","14","38"],"range":["#cdd2da","#aab4d2","#8d9dc5","#1a69ab"]},"legend":null},
"strokeDash":{"field":"s","type":"nominal","scale":{"domain":["solid","dashed"],"range":[[1,0],[9,5]]},"legend":null}}},
{"data":{"values":[{"f":177,"v":2600,"v2":1.3}]},
"mark":{"type":"rule","color":"#111111","strokeWidth":2.5,"strokeDash":[16,8]},"encoding":{"y2":{"field":"v2"}}},
{"data":{"values":[{"f":14.2,"v":1640,"t":"LFP"},{"f":5600,"v":1640,"t":"Spike"}]},
"mark":{"type":"text","fontSize":21,"color":"#111111"},"encoding":{"text":{"field":"t"}}}
]
}
],
"config":{"view":{"stroke":null},"font":"Liberation Sans",
"axis":{"domainColor":"#1a1a1a","domainWidth":2.5,"tickColor":"#1a1a1a","tickWidth":2,"labelFontSize":20,"labelColor":"#1a1a1a","labelFont":"Liberation Sans","titleFont":"Liberation Sans","titleFontSize":21,"titleFontWeight":"normal","titleColor":"#1a1a1a","grid":false},
"title":{"font":"Liberation Sans","color":"#1a1a1a"}}
}
